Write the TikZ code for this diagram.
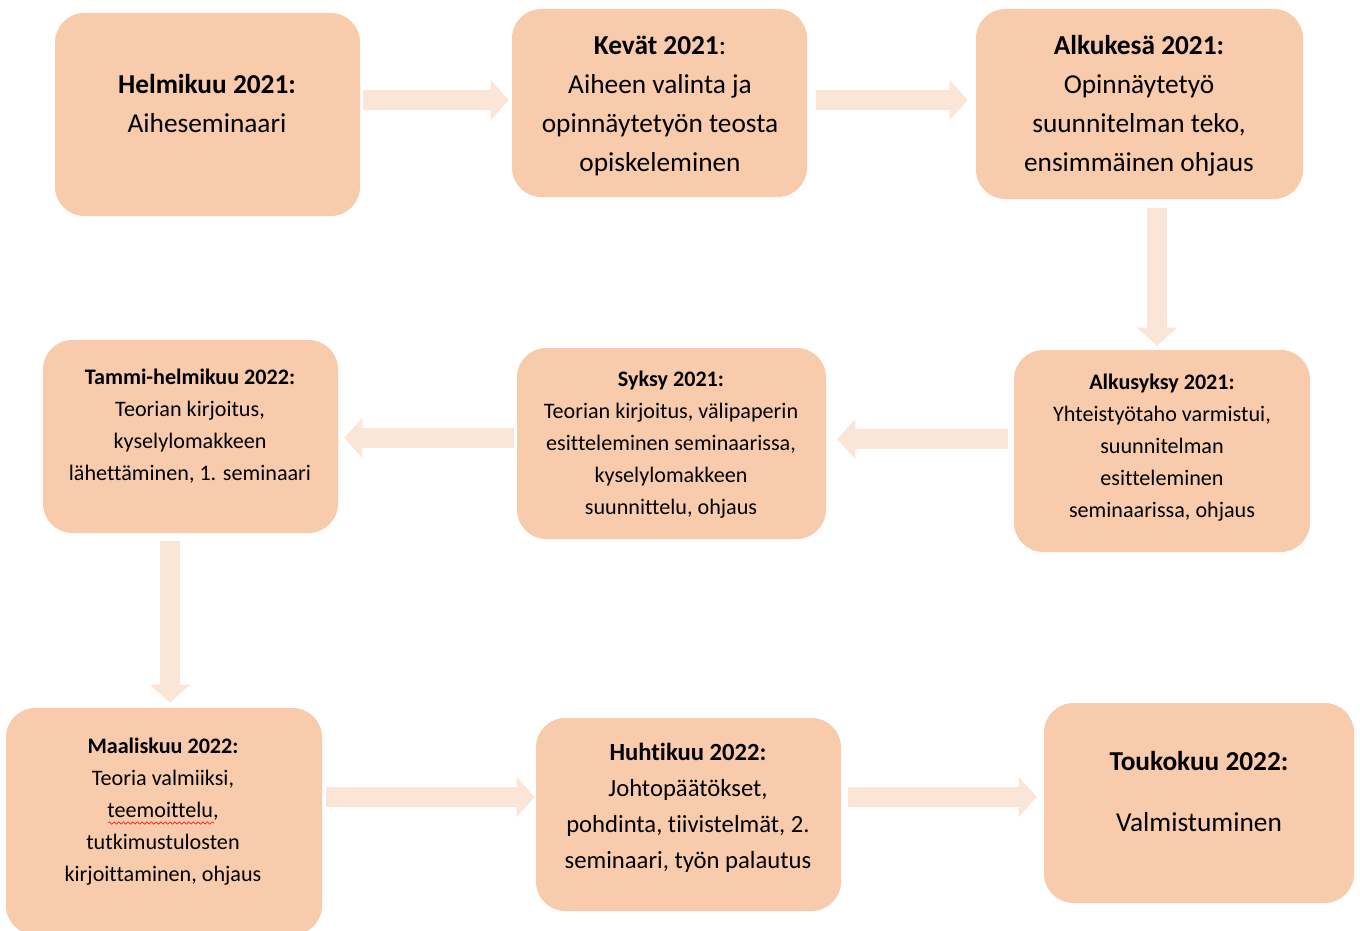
\documentclass[tikz,border=0pt]{standalone}
\usepackage{fontspec}
\setmainfont{Carlito}[Ligatures=NoCommon]
\usetikzlibrary{arrows.meta,decorations.pathmorphing}
\definecolor{boxfill}{HTML}{F8CBAD}
\definecolor{arrowfill}{HTML}{FBE5D6}
\tikzset{
  box/.style={fill=boxfill, rounded corners=22pt, inner sep=0pt},
  bigtext/.style={align=center, font=\fontsize{20.5}{29.25}\selectfont},
  smalltext/.style={align=center, font=\fontsize{16.6}{24}\selectfont},
  flow/.style={draw=arrowfill, line width=15pt,
    -{Triangle[length=13.5pt,width=30pt,line width=0pt]}}
}
\begin{document}
\begin{tikzpicture}[x=0.75pt,y=-0.75pt]

\useasboundingbox (0,0) rectangle (1360,931);

% The boxes, first row
\node[box,minimum width=228.75pt,minimum height=152.25pt] (helmi) at (207.5,114.5) {};
\node[bigtext] (helmi-txt) at (207,104)
  {\textbf{Helmikuu 2021:}\\Aiheseminaari};
\node[box,minimum width=221.25pt,minimum height=141pt] (kevat) at (659.5,103) {};
\node[bigtext] (kevat-txt) at (660,105.5)
  {\textbf{Kevät 2021}:\\Aiheen valinta ja\\opinnäytetyön teosta\\opiskeleminen};
\node[box,minimum width=245.25pt,minimum height=142.5pt] (alkukesa) at (1139.5,104) {};
\node[bigtext] (alkukesa-txt) at (1139,105.5)
  {\textbf{Alkukesä 2021:}\\Opinnäytetyö\\suunnitelman teko,\\ensimmäinen ohjaus};

% The boxes, second row
\node[box,minimum width=222pt,minimum height=151.5pt] (alkusyksy) at (1162,451) {};
\node[smalltext] (alkusyksy-txt) at (1162,448)
  {\textbf{Alkusyksy 2021:}\\Yhteistyötaho varmistui,\\suunnitelman\\esitteleminen\\seminaarissa, ohjaus};
\node[box,minimum width=231.75pt,minimum height=143.25pt] (syksy) at (671.5,443.5) {};
\node[smalltext] (syksy-txt) at (671,445)
  {\textbf{Syksy 2021:}\\Teorian kirjoitus, välipaperin\\esitteleminen seminaarissa,\\kyselylomakkeen\\suunnittelu, ohjaus};
\node[box,minimum width=221.25pt,minimum height=144.75pt] (tammi) at (190.5,436.5) {};
\node[smalltext] (tammi-txt) at (190,426)
  {\textbf{Tammi-helmikuu 2022:}\\Teorian kirjoitus,\\kyselylomakkeen\\lähettäminen, 1. seminaari};

% The boxes, third row
\node[box,minimum width=237pt,minimum height=170.25pt] (maalis) at (164,821.5) {};
\node[smalltext] (maalis-txt) at (163,812)
  {\textbf{Maaliskuu 2022:}\\Teoria valmiiksi,\\teemoittelu,\\tutkimustulosten\\kirjoittaminen, ohjaus};
\node[box,minimum width=228.75pt,minimum height=144.75pt] (huhti) at (688.5,814.5) {};
\node[align=center,font=\fontsize{18.5}{27}\selectfont] (huhti-txt) at (688,807.5)
  {\textbf{Huhtikuu 2022:}\\Johtopäätökset,\\pohdinta, tiivistelmät, 2.\\seminaari, työn palautus};
\node[box,minimum width=232.5pt,minimum height=150pt] (touko) at (1199,803) {};
\node[bigtext] (touko-txt) at (1199,792)
  {\textbf{Toukokuu 2022:}\\[16.5pt]Valmistuminen};

% The spelling mark
\draw[red,decorate,decoration={snake,amplitude=0.9pt,segment length=3.5pt}] (108,823) -- (214,823);

% The arrows
\draw[flow,shorten <=2.25pt,shorten >=2.25pt] (helmi.east |- 0,100) -- (kevat.west |- 0,100);
\draw[flow,shorten <=6.75pt,shorten >=6pt] (kevat.east |- 0,100) -- (alkukesa.west |- 0,100);
\draw[flow,shorten <=6.75pt,shorten >=3pt] (alkukesa.south -| 1157,0) -- (alkusyksy.north -| 1157,0);
\draw[flow,shorten <=4.5pt,shorten >=8.25pt] (alkusyksy.west |- 0,439) -- (syksy.east |- 0,439);
\draw[flow,shorten <=2.25pt,shorten >=4.5pt] (syksy.west |- 0,438) -- (tammi.east |- 0,438);
\draw[flow,shorten <=6pt,shorten >=3.75pt] (tammi.south -| 170,0) -- (maalis.north -| 170,0);
\draw[flow,shorten <=3pt,shorten >=0.75pt] (maalis.east |- 0,797) -- (huhti.west |- 0,797);
\draw[flow,shorten <=5.25pt,shorten >=5.25pt] (huhti.east |- 0,797) -- (touko.west |- 0,797);

\end{tikzpicture}
\end{document}
